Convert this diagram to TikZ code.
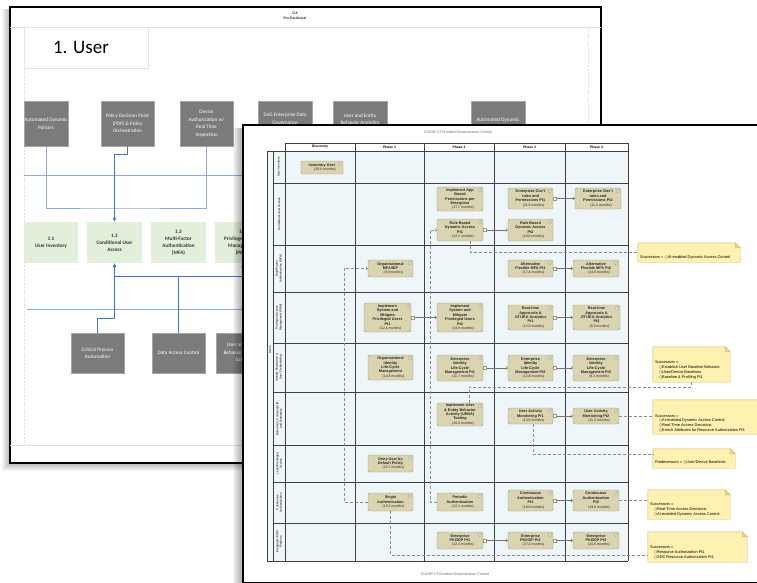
\documentclass[tikz,border=0pt]{standalone}
\usepackage{fontspec}
\setmainfont{Liberation Sans}
\newfontfamily\slidefont{Carlito}
\newfontfamily\dvfont{DejaVu Sans}
\usetikzlibrary{arrows.meta}
\definecolor{boxgray}{HTML}{7B7B7B}
\definecolor{boxgreen}{HTML}{E2EFDA}
\definecolor{lineblue}{HTML}{8FAADC}
\definecolor{arrowblue}{HTML}{4472C4}
\definecolor{taskfill}{HTML}{DAD5B0}
\definecolor{taskdraw}{HTML}{9E9874}
\definecolor{notefill}{HTML}{FFF1B0}
\definecolor{notedraw}{HTML}{C9B66E}
\definecolor{cellfill}{HTML}{EFF6FA}
\newcommand\fsz[2]{\fontsize{#1}{#2}\selectfont}
\newcommand\cnode[7]{\node[#1,minimum width={(#4-#2)*1pt},minimum height={(#5-#3)*1pt}] (#6) at ({(#2+#4)/2},{(#3+#5)/2}) {#7};}
\newcommand\tsk[7]{\cnode{task}{#2}{#3}{#4}{#5}{#1}{#6\\\mdseries\fsz{3.5}{4.3}\hspace*{6pt}(#7 months)}%
 \draw[taskdraw,fill=black!6,line width=0.3pt] ([shift={(-3.5pt,-3.5pt)}]#1.north east) circle (1.7pt);}
\newcommand\oo{{\dvfont\fsz{3.6}{4.8}○}}
\newcommand\notefold[1]{\filldraw[notedraw,fill=notefill,line width=0.4pt] (#1.north west) -- ([xshift=-5pt]#1.north east) -- ([yshift=-5pt]#1.north east) -- (#1.south east) -- (#1.south west) -- cycle;
 \filldraw[notedraw,fill=notefill!70!orange,line width=0.4pt] ([xshift=-5pt]#1.north east) -- ([xshift=-5pt,yshift=-5pt]#1.north east) -- ([yshift=-5pt]#1.north east) -- cycle;}
\begin{document}
\begin{tikzpicture}[x=1pt,y=-1pt,
  darkbox/.style={fill=boxgray,draw=black!35,line width=0.4pt,text=white,font=\slidefont\fsz{5.2}{7.5},align=center,inner sep=0.5pt},
  greenbox/.style={fill=boxgreen,draw=none,text=black!80,font=\slidefont\bfseries\fsz{5.2}{7},align=center,inner sep=0.5pt},
  userbox/.style={draw=black!10,line width=0.4pt,font=\slidefont\fsz{19}{22},inner sep=0pt},
  bl/.style={lineblue,line width=0.8pt},
  ba/.style={arrowblue,line width=1pt,-{Latex[length=4pt,width=4pt]}},
  bn/.style={arrowblue,line width=1pt},
  task/.style={rounded corners=2pt,fill=taskfill,draw=taskdraw,line width=0.4pt,font=\bfseries\fsz{3.8}{4.4},text=black!85,align=center,inner sep=0.5pt},
  flow/.style={black!55,line width=0.4pt,-{Straight Barb[length=1.5pt,width=3pt]}},
  dep/.style={black!45,line width=0.5pt,dash pattern=on 3pt off 2pt},
  tbl/.style={draw=black!75,line width=0.7pt},
  hdrlbl/.style={font=\bfseries\fsz{3.4}{4},inner sep=0pt},
  rowlbl/.style={font=\fsz{3}{3.6},align=center,rotate=90,inner sep=0pt},
  notebox/.style={draw=none,inner sep=0pt},
  notetext/.style={font=\fsz{3.9}{4.8},align=left,inner sep=0pt,anchor=south west}]
\useasboundingbox (0,0) rectangle (757,583);
\fill[white] (0,0) rectangle (757,583);
% ---------------- left slide ----------------
\foreach \k in {1,...,8} {\fill[black,opacity=0.035] (10-\k,9) rectangle (601,463+\k);}
\node[draw=black,line width=1.3pt,fill=white,minimum width=591pt,minimum height=456pt,inner sep=0pt] (slide) at (305.5,235) {};
\draw[black!12,line width=0.4pt] (10,27) -- (601,27);
\draw[black!12,line width=0.5pt,dash pattern=on 2pt off 1.5pt] (24,27) -- (24,445);
\draw[black!12,line width=0.5pt,dash pattern=on 2pt off 1.5pt] (588,27) -- (588,445);
\draw[black!12,line width=0.5pt] (10,445) -- (601,445);
\node[font=\slidefont\bfseries\fsz{3.8}{4.6},align=center,text=black!80] (hdr) at (295,16) {CUI\\Pre-Decisional};
\cnode{userbox}{24}{27}{148}{68}{ub}{1. User\hspace*{10pt}}
% top boxes
\cnode{darkbox}{24}{101}{68}{146}{b1}{Automated Dynamic\\Policies}
\cnode{darkbox}{101}{101}{154}{146}{b2}{Policy Decision Point\\(PDP) \& Policy\\Orchestration}
\cnode{darkbox}{180}{101}{233}{146}{b3}{Device\\Authorization w/\\Real Time\\Inspection}
\cnode{darkbox}{258}{101}{312}{146}{b4}{DoD Enterprise Data\\Governance\\\strut}
\cnode{darkbox}{333}{101}{387}{146}{b5}{User and Entity\\Behavior Analytics\\(UEBA)}
\cnode{darkbox}{471}{101}{525}{146}{b6}{Automated Dynamic\\Policies}
% green boxes
\cnode{greenbox}{24}{222}{78}{263}{g1}{1.1\\User Inventory}
\cnode{greenbox}{87}{222}{142}{263}{g2}{1.2\\Conditional User\\Access}
\cnode{greenbox}{151}{222}{206}{263}{g3}{1.3\\Multi-Factor\\Authentication\\(MFA)}
\cnode{greenbox}{215}{222}{270}{263}{g4}{1.4\\Privileged Access\\Management\\(PAM)}
% bottom boxes
\cnode{darkbox}{71}{333}{124}{373}{c1}{Critical Process\\Automation}
\cnode{darkbox}{152}{333}{205}{373}{c2}{Data Access Control}
\cnode{darkbox}{216}{333}{270}{373}{c3}{User and Entity\\Behavior Analytics\\(UEBA)}
% blue lines
\draw[bl] (24,175) -- (588,175);
\draw[bl] (27,309) -- (588,309);
\coordinate (j1) at (114.5,208);
\coordinate (j2) at (114.5,276);
\draw[bl] (b1.south) |- (j1) -| (b3.south);
\draw[ba] (b2.south) -- ++(0pt,-8pt) -| (g2.north);
\draw[ba] (c2.north) |- (j2) -- (g2.south);
\draw[ba] (c1.north) -- ++(0pt,14pt) -| (g2.south);
\draw[bn] (j2) -| (c3.north);
\draw[ba] (c3.north) -- (c3.north |- g4.south);
% ---------------- right document ----------------
\foreach \k in {1,...,10} {\fill[black,opacity=0.035] (243-\k,128) rectangle (770,590);}
\node[draw=black,line width=1.3pt,fill=white,minimum width=527pt,minimum height=458pt,inner sep=0pt] (doc) at (506.5,354) {};
\node[font=\fsz{3.6}{4},text=black!60] (dt) at (458,132) {CUI/SP-CTI/Limited Dissemination Control};
\node[font=\fsz{3.6}{4},text=black!60] (db) at (455,574) {CUI/SP-CTI/Limited Dissemination Control};
% table
\fill[cellfill] (267,151) rectangle (628,561);
\fill[white] (285,143) rectangle (628,151);
\foreach \y in {183,245,292,343,392,445,482,523} {\draw[tbl] (273,\y) -- (628,\y);}
\foreach \x in {285,355,424,494,565,628} {\draw[tbl] (\x,143) -- (\x,561);}
\draw[tbl] (285,143) -- (628,143);
\draw[tbl] (267,151) -- (628,151);
\draw[tbl] (267,561) -- (628,561);
\draw[tbl] (267,151) -- (267,561);
\draw[tbl] (273,151) -- (273,561);
\node[hdrlbl] (h0) at (320,147) {Discovery};
\node[hdrlbl] (h1) at (389.5,147) {Phase 1};
\node[hdrlbl] (h2) at (459,147) {Phase 2};
\node[hdrlbl] (h3) at (529.5,147) {Phase 3};
\node[hdrlbl] (h4) at (596.5,147) {Phase 4};
\node[rowlbl] (users) at (270,350) {Users};
\node[rowlbl] (r1) at (279,167) {User Inventory};
\node[rowlbl] (r2) at (279,214) {Conditional User Access};
\node[rowlbl] (r3) at (279,268.5) {Multi-Factor\\Authentication (MFA)};
\node[rowlbl] (r4) at (279,317.5) {Privileged Access\\Management (PAM)};
\node[rowlbl] (r5) at (279,367.5) {Identity Federation \&\\User Credentialing};
\node[rowlbl] (r6) at (279,418.5) {Behavioral, Contextual ID,\\and Biometrics};
\node[rowlbl] (r7) at (279,463.5) {Least Privileged\\Access};
\node[rowlbl] (r8) at (279,502.5) {Continuous\\Authentication};
\node[rowlbl] (r9) at (279,542) {Integrated ICAM\\Platform};
% tasks
\tsk{iu}{301}{161}{343}{174}{Inventory User}{20.0}
\tsk{ab}{437}{187}{483}{211}{Implement App\\Based\\Permissions per\\Enterprise}{17.7}
\tsk{gr1}{508}{188}{553}{209}{Enterprise Gov't\\roles and\\Permissions Pt1}{11.6}
\tsk{gr2}{575}{188}{621}{209}{Enterprise Gov't\\roles and\\Permissions Pt2}{11.2}
\tsk{rb1}{437}{219}{483}{241}{Rule Based\\Dynamic Access\\Pt1}{22.1}
\tsk{rb2}{508}{219}{553}{241}{Rule Based\\Dynamic Access\\Pt2}{19.6}
\tsk{om}{368}{260}{413}{277}{Organizational\\MFA/IDP}{9.0}
\tsk{af1}{508}{260}{553}{277}{Alternative\\Flexible MFA Pt1}{17.4}
\tsk{af2}{573}{260}{619}{277}{Alternative\\Flexible MFA Pt2}{14.8}
\tsk{is1}{364}{303}{411}{332}{Implement\\System and\\Mitigate\\Privileged Users\\Pt1}{12.4}
\tsk{is2}{437}{303}{483}{332}{Implement\\System and\\Mitigate\\Privileged Users\\Pt2}{14.9}
\tsk{rt1}{508}{305}{553}{330}{Real-time\\Approvals \&\\JIT/JEA Analytics\\Pt1}{12.5}
\tsk{rt2}{573}{305}{620}{330}{Real-time\\Approvals \&\\JIT/JEA Analytics\\Pt2}{8.0}
\tsk{ol}{368}{355}{413}{380}{Organizational\\Identity\\Life-Cycle\\Management}{14.8}
\tsk{el1}{437}{355}{483}{381}{Enterprise\\Identity\\Life-Cycle\\Management Pt1}{11.7}
\tsk{el2}{508}{355}{553}{381}{Enterprise\\Identity\\Life-Cycle\\Management Pt2}{12.6}
\tsk{el3}{573}{355}{619}{381}{Enterprise\\Identity\\Life-Cycle\\Management Pt3}{8.2}
\tsk{ue}{437}{403}{483}{426}{Implement User\\\& Entity Behavior\\Activity (UEBA)\\Tooling}{10.0}
\tsk{um1}{508}{408}{553}{424}{User Activity\\Monitoring Pt1}{13.5}
\tsk{um2}{573}{408}{619}{424}{User Activity\\Monitoring Pt2}{11.2}
\tsk{dd}{368}{455}{413}{472}{Deny User by\\Default Policy}{22.7}
\tsk{sa}{368}{493}{413}{511}{Single\\Authentication}{15.2}
\tsk{pa}{437}{493}{483}{511}{Periodic\\Authentication}{22.1}
\tsk{ca1}{508}{490}{553}{511}{Continuous\\Authentication\\Pt1}{18.8}
\tsk{ca2}{573}{490}{619}{511}{Continuous\\Authentication\\Pt2}{19.8}
\tsk{pk1}{437}{532}{483}{549}{Enterprise\\PKI/IDP Pt1}{12.4}
\tsk{pk2}{508}{532}{553}{549}{Enterprise\\PKI/IDP Pt2}{27.2}
\tsk{pk3}{573}{532}{619}{549}{Enterprise\\PKI/IDP Pt3}{20.0}
% flows
\foreach \a/\b in {gr1/gr2,rb1/rb2,af1/af2,is1/is2,rt1/rt2,el1/el2,el2/el3,um1/um2,ca1/ca2,pk1/pk2,pk2/pk3} {
  \draw[flow] (\a.east) -- (\a.east -| \b.west);
  \draw[taskdraw,fill=white,line width=0.3pt] ([shift={(0pt,-1.5pt)}]\a.east) rectangle +(2.5pt,3pt);
}
% notes
\cnode{notebox}{638}{243}{740}{262}{n1}{}
\cnode{notebox}{653}{347}{730}{382}{n2}{}
\cnode{notebox}{653}{400}{768}{434}{n3}{}
\cnode{notebox}{653}{449}{735}{468}{n4}{}
\cnode{notebox}{648}{490}{730}{519}{n5}{}
\cnode{notebox}{648}{532}{747}{562}{n6}{}
\notefold{n1}\notefold{n2}\notefold{n3}\notefold{n4}\notefold{n5}\notefold{n6}
\node[notetext] (n1t) at ([shift={(2pt,3pt)}]n1.south west) {Successors = \oo AI-enabled Dynamic Access Control};
\node[notetext] (n2t) at ([shift={(2pt,3pt)}]n2.south west) {Successors =\\\hspace*{4pt}\oo Establish User Baseline Behavior\\\hspace*{4pt}\oo User/Device Baselines\\\hspace*{4pt}\oo Baseline \& Profiling Pt1};
\node[notetext] (n3t) at ([shift={(2pt,2pt)}]n3.south west) {Successors =\\\hspace*{4pt}\oo AI-enabled Dynamic Access Control\\\hspace*{4pt}\oo Real-Time Access Decisions\\\hspace*{4pt}\oo Enrich Attributes for Resource Authorization Pt1};
\node[notetext] (n4t) at ([shift={(2pt,4pt)}]n4.south west) {Predecessors = \oo User/Device Baselines};
\node[notetext] (n5t) at ([shift={(2pt,3pt)}]n5.south west) {Successors =\\\hspace*{4pt}\oo Real-Time Access Decisions\\\hspace*{4pt}\oo AI-enabled Dynamic Access Control};
\node[notetext] (n6t) at ([shift={(2pt,3pt)}]n6.south west) {Successors =\\\hspace*{4pt}\oo Resource Authorization Pt1\\\hspace*{4pt}\oo SDC Resource Authorization Pt1};
% dependency lines
\draw[dep,-{Straight Barb[length=1.5pt,width=3pt]}] (pa.west) -- ++(-7pt,0pt) |- (rb1.west);
\draw[dep,-{Straight Barb[length=1.5pt,width=3pt]}] (sa.west) -- ++(-24pt,0pt) |- (om.west);
\draw[dep] ([xshift=10pt]rb1.south) |- (n1.west);
\draw[dep] ([xshift=9pt]ue.north) -- ++(0pt,16pt) -| (n2.south);
\draw[dep] (um2.east) -- (um2.east -| n3.west);
\draw[dep] ([xshift=2.5pt]um1.south) |- ([yshift=4pt]n4.west);
\draw[dep] (ca2.east) -- (ca2.east -| n5.west);
\draw[dep] (sa.south) |- ([yshift=-8pt]n6.west);
\end{tikzpicture}
\end{document}
